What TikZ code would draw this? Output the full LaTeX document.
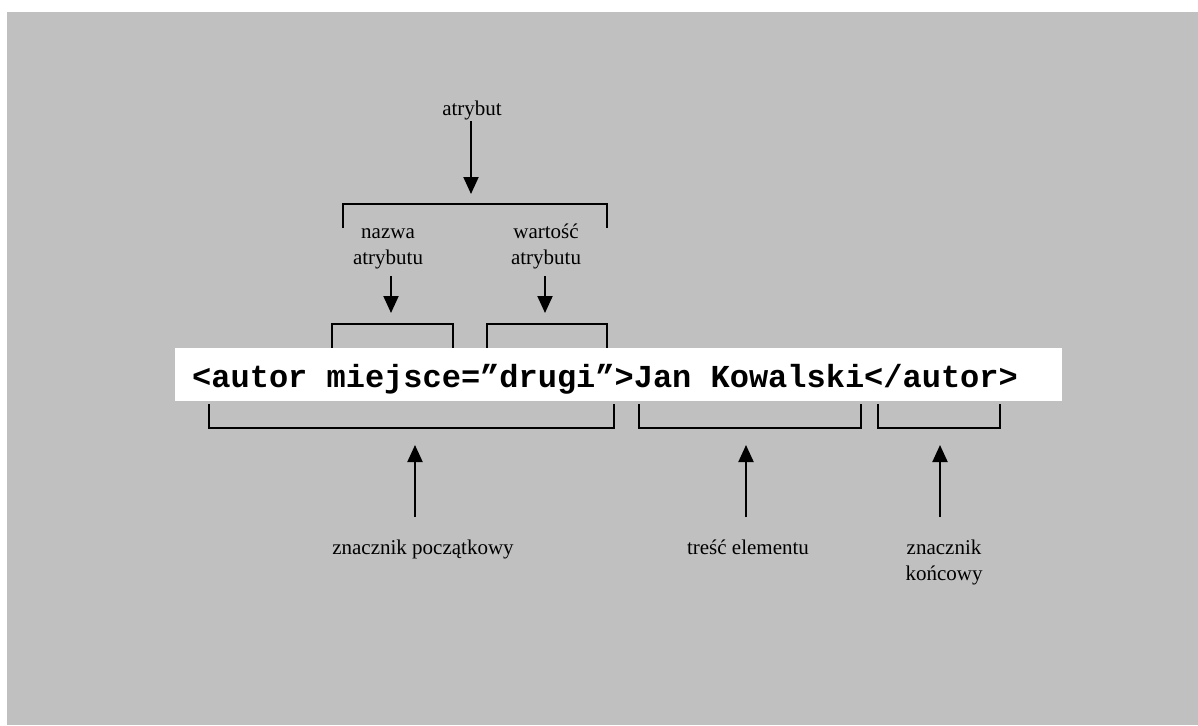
\documentclass[tikz,border=0pt]{standalone}
\usepackage{fontspec}
\setmainfont{Liberation Serif}
\newfontfamily\codefont{Liberation Mono}
\usetikzlibrary{arrows.meta}
\definecolor{panelgray}{RGB}{192,192,192}
\begin{document}
\begin{tikzpicture}[x=1pt,y=-1pt,
  lbl/.style={font=\fontsize{21}{26}\selectfont, inner sep=0pt, align=center},
  bracket/.style={line width=2pt},
  pointer/.style={line width=2pt, -{Triangle[width=15pt,length=17pt]}},
]
\useasboundingbox (0,0) rectangle (1198,725);
\fill[panelgray] (7,12) rectangle (1198,725);

% bracket over the whole attribute
\draw[bracket] (343,228) -- (343,204) -- (607,204) -- (607,228);
% brackets over attribute name and value (run down behind the code strip)
\draw[bracket] (332,350) -- (332,324) -- (453,324) -- (453,350);
\draw[bracket] (487,350) -- (487,324) -- (607,324) -- (607,350);

% the code line on its white strip
\node (codebox) [fill=white, inner sep=0pt, minimum width=887pt, minimum height=53pt] at (618.5,374.5) {};
\node (code) [anchor=base west, inner sep=0pt, font=\codefont\bfseries\fontsize{32}{36}\selectfont]
  at (192,387) {<autor miejsce=”drugi”>Jan Kowalski</autor>};

% brackets under start tag, content and end tag
\draw[bracket] (209,404) -- (209,428) -- (614,428) -- (614,404);
\draw[bracket] (639,404) -- (639,428) -- (861,428) -- (861,404);
\draw[bracket] (878,404) -- (878,428) -- (1000,428) -- (1000,404);

% labels above
\node (attr)  [lbl, anchor=south] at (472,120) {atrybut};
\node (aname) [lbl, anchor=south] at (388,269) {nazwa\\atrybutu};
\node (aval)  [lbl, anchor=south] at (546,269) {wartość\\atrybutu};

% labels below
\node (stag)    [lbl, anchor=north] at (423,540) {znacznik początkowy};
\node (content) [lbl, anchor=north] at (748,540) {treść elementu};
\node (etag)    [lbl, anchor=north] at (944,540) {znacznik\\końcowy};

% arrow tips
\coordinate (attrTip)    at (471,194);
\coordinate (anameTip)   at (391,313);
\coordinate (avalTip)    at (545,313);
\coordinate (stagTip)    at (415,445);
\coordinate (contentTip) at (746,445);
\coordinate (etagTip)    at (940,445);

\draw[pointer, shorten <=1pt] (attrTip |- attr.south)   -- (attrTip);
\draw[pointer, shorten <=7pt] (anameTip |- aname.south) -- (anameTip);
\draw[pointer, shorten <=7pt] (avalTip |- aval.south)   -- (avalTip);
\draw[pointer, shorten <=23pt] (stagTip |- stag.north)       -- (stagTip);
\draw[pointer, shorten <=23pt] (contentTip |- content.north) -- (contentTip);
\draw[pointer, shorten <=23pt] (etagTip |- etag.north)       -- (etagTip);
\end{tikzpicture}
\end{document}
